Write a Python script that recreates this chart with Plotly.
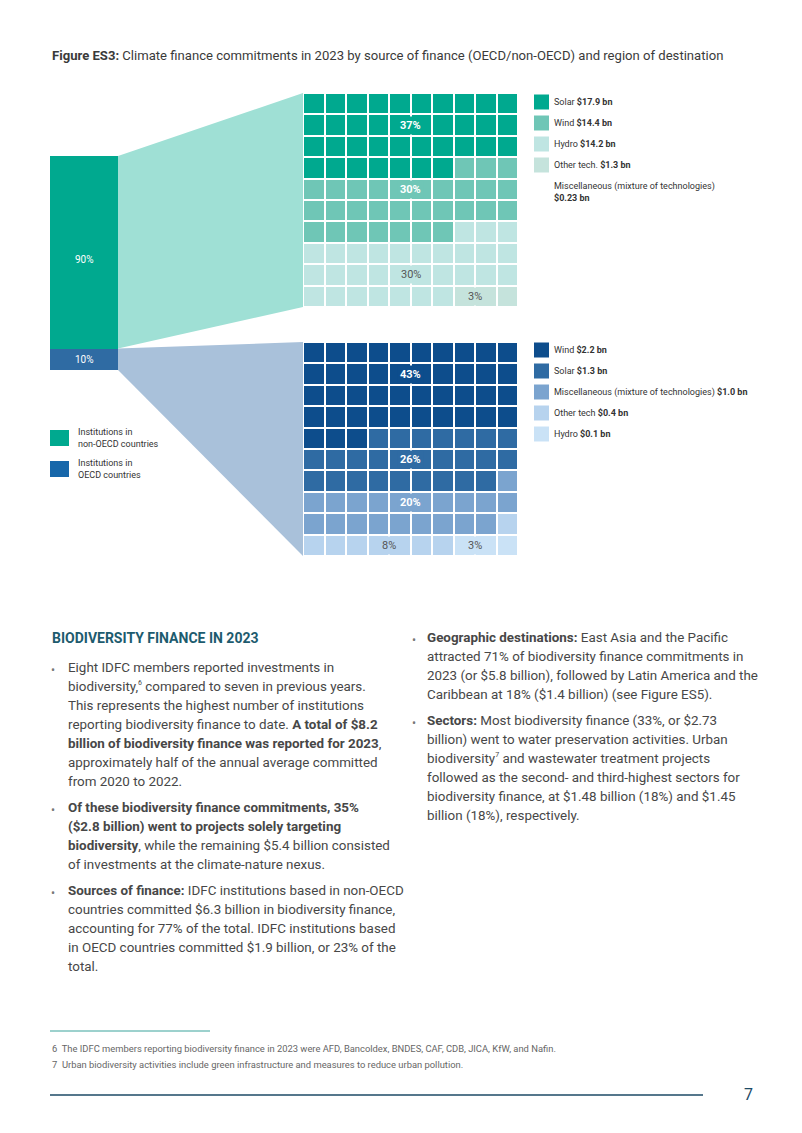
import plotly.graph_objects as go

W, H = 802, 1133
OFF = 8                  # default page margin around the plot
FW, FH = W - 2 * OFF, H - 2 * OFF

# ---------------- data ----------------
source_labels = ["Institutions in<br>non-OECD countries", "Institutions in<br>OECD countries"]
source_share = [90, 10]

nonoecd_tech = ["Solar", "Wind", "Hydro", "Other tech.", "Miscellaneous (mixture of technologies)"]
nonoecd_bn = ["$17.9 bn", "$14.4 bn", "$14.2 bn", "$1.3 bn", "$0.23 bn"]
nonoecd_cells = [37, 30, 30, 3, 0]
nonoecd_pct = ["37%", "30%", "30%", "3%", ""]

oecd_tech = ["Wind", "Solar", "Miscellaneous (mixture of technologies)", "Other tech", "Hydro"]
oecd_bn = ["$2.2 bn", "$1.3 bn", "$1.0 bn", "$0.4 bn", "$0.1 bn"]
oecd_cells = [43, 26, 20, 8, 3]
oecd_pct = ["43%", "26%", "20%", "8%", "3%"]

# ---------------- style ----------------
FONT = "Roboto"
TXT = "#474747"
src_colors = ["#00a98f", "#2f6ba3"]
src_legend_colors = ["#00a98f", "#1767aa"]
funnel_colors = ["#9fe0d5", "#a9c1da"]
nonoecd_colors = ["#00a98f", "#6fc6b6", "#bfe5e2", "#c5e3dc", "#ffffff"]
oecd_colors = ["#0d4d8c", "#2f6ba3", "#7ba4cf", "#b7d3ee", "#cae2f6"]
nonoecd_label_pos = [(1, 4.5), (4, 4.5), (8, 4.5), (9, 7.5), None]
nonoecd_label_col = ["white", "white", "#555555", "#555555", None]
oecd_label_pos = [(1, 4.5), (5, 4.5), (7, 4.5), (9, 3.5), (9, 7.5)]
oecd_label_col = ["white", "white", "white", "#555555", "#555555"]

BAR_X = (50, 118)
BAR_Y = (156, 370)
WAF_X = (303, 518)
WAF1_Y = (93, 307)
WAF2_Y = (342, 556)


def px(x):
    return (x - OFF) / FW


def py(y):
    return 1 - (y - OFF) / FH


fig = go.Figure()
annotations = []
shapes = []

# full-page pixel axes
fig.update_layout(
    xaxis=dict(domain=[0, 1], range=[OFF, OFF + FW], visible=False, fixedrange=True),
    yaxis=dict(domain=[0, 1], range=[OFF + FH, OFF], visible=False, fixedrange=True),
)

# ---------- funnels (computed from source shares) ----------
bar_h = BAR_Y[1] - BAR_Y[0]
split_y = BAR_Y[0] + bar_h * source_share[0] / sum(source_share)
funnel_defs = [
    ((BAR_Y[0], split_y), WAF1_Y),
    ((split_y, BAR_Y[1]), WAF2_Y),
]
for i, ((b0, b1), (w0, w1)) in enumerate(funnel_defs):
    fig.add_trace(go.Scatter(
        x=[BAR_X[1], WAF_X[0], WAF_X[0], BAR_X[1], BAR_X[1]],
        y=[b0, w0, w1, b1, b0],
        fill="toself", fillcolor=funnel_colors[i], mode="lines",
        line=dict(width=0), hoverinfo="skip", xaxis="x", yaxis="y",
    ))

# ---------- stacked source bar ----------
for i in [1, 0]:
    fig.add_trace(go.Bar(
        x=[0], y=[source_share[i]], marker=dict(color=src_colors[i], line=dict(width=0)),
        xaxis="x2", yaxis="y2", width=1, hoverinfo="skip",
    ))
fig.update_layout(
    barmode="stack",
    xaxis2=dict(domain=[px(BAR_X[0]), px(BAR_X[1])], range=[-0.5, 0.5], visible=False, anchor="y2", fixedrange=True),
    yaxis2=dict(domain=[py(BAR_Y[1]), py(BAR_Y[0])], range=[0, sum(source_share)], visible=False, anchor="x2", fixedrange=True),
)
# bar labels (inside each segment)
annotations.append(dict(x=0, y=source_share[1] + source_share[0] * 0.46, xref="x2", yref="y2",
                        text=f"{source_share[0]}%", showarrow=False,
                        font=dict(color="white", size=10, family=FONT)))
annotations.append(dict(x=0, y=source_share[1] / 2, xref="x2", yref="y2",
                        text=f"{source_share[1]}%", showarrow=False,
                        font=dict(color="white", size=10, family=FONT)))


# ---------- waffles ----------
def waffle(cells, colors, xa, ya, ydom, label_pos, labels, label_cols):
    flat = []
    for k, n in enumerate(cells):
        flat += [k] * n
    z = [flat[r * 10:(r + 1) * 10] for r in range(10)]
    n = len(colors)
    cs = []
    for k, c in enumerate(colors):
        cs.append([k / n, c])
        cs.append([(k + 1) / n, c])
    fig.add_trace(go.Heatmap(
        z=z, x=list(range(10)), y=list(range(10)), colorscale=cs,
        zmin=-0.5, zmax=n - 0.5, showscale=False, xgap=2, ygap=2,
        hoverinfo="skip", xaxis=xa, yaxis=ya,
    ))
    fig.layout[xa.replace("x", "xaxis")] = dict(
        domain=[px(WAF_X[0]), px(WAF_X[1])], range=[-0.5, 9.5], visible=False,
        anchor=ya, fixedrange=True)
    fig.layout[ya.replace("y", "yaxis")] = dict(
        domain=[py(ydom[1]), py(ydom[0])], range=[9.5, -0.5], visible=False,
        anchor=xa, fixedrange=True)
    for k, pos in enumerate(label_pos):
        if pos is None or not labels[k]:
            continue
        r, c = pos
        annotations.append(dict(
            x=c, y=r, xref=xa, yref=ya, text=labels[k],
            showarrow=False, font=dict(color=label_cols[k], size=11, family=FONT),
            bgcolor=colors[k], borderpad=2,
        ))


nonoecd_label_text = [f"<b>{t}</b>" if c == "white" else t for t, c in zip(nonoecd_pct, nonoecd_label_col)]
oecd_label_text = [f"<b>{t}</b>" if c == "white" else t for t, c in zip(oecd_pct, oecd_label_col)]
waffle(nonoecd_cells, nonoecd_colors, "x3", "y3", WAF1_Y, nonoecd_label_pos, nonoecd_label_text, nonoecd_label_col)
waffle(oecd_cells, oecd_colors, "x4", "y4", WAF2_Y, oecd_label_pos, oecd_label_text, oecd_label_col)


# ---------- legends ----------
def swatch(x0, y0, w, h, color):
    shapes.append(dict(type="rect", xref="x", yref="y", x0=x0, x1=x0 + w, y0=y0, y1=y0 + h,
                       fillcolor=color, line=dict(width=0), layer="above"))


def text(x, y, s, size=14, color=TXT, anchor="left", family=FONT, yanchor="middle"):
    annotations.append(dict(x=x, y=y, xref="x", yref="y", text=s, showarrow=False,
                            xanchor=anchor, yanchor=yanchor, align="left",
                            font=dict(size=size, color=color, family=family)))


LEG = 9
# top-right legend
ly = [102, 123, 144, 165]
for k in range(4):
    swatch(534, ly[k] - 7.5, 15, 15, nonoecd_colors[k])
    text(552, ly[k], f"{nonoecd_tech[k]} <b>{nonoecd_bn[k]}</b>", size=LEG, color="#333333")
text(552, 186, nonoecd_tech[4], size=LEG, color="#333333")
text(552, 198, f"<b>{nonoecd_bn[4]}</b>", size=LEG, color="#333333")

ly2 = [350, 371, 392, 413, 434]
for k in range(5):
    swatch(534, ly2[k] - 7.5, 15, 15, oecd_colors[k])
    text(552, ly2[k], f"{oecd_tech[k]} <b>{oecd_bn[k]}</b>", size=LEG, color="#333333")

# source legend
for k, yy in enumerate([438, 469]):
    swatch(50, yy - 8, 19, 16, src_legend_colors[k])
    l1, l2 = source_labels[k].split("<br>")
    text(76, yy - 6, l1, size=LEG, color="#333333")
    text(76, yy + 6, l2, size=LEG, color="#333333")

# title
text(50, 55, "<b>Figure ES3:</b> Climate finance commitments in 2023 by source of finance (OECD/non-OECD) and region of destination",
     size=13.1, color="#3a3a3a")

# ---------- body text ----------
text(50, 638, "<b>BIODIVERSITY FINANCE IN 2023</b>", size=14, color="#1d5b6e")

SUP6 = "<sup><span style='font-size:7px'>6</span></sup>"
SUP7 = "<sup><span style='font-size:7px'>7</span></sup>"
left_col = [
    (667, True, "Eight IDFC members reported investments in"),
    (686, False, f"biodiversity,{SUP6} compared to seven in previous years."),
    (705, False, "This represents the highest number of institutions"),
    (724, False, "reporting biodiversity finance to date. <b>A total of $8.2</b>"),
    (743, False, "<b>billion of biodiversity finance was reported for 2023</b>,"),
    (762, False, "approximately half of the annual average committed"),
    (781, False, "from 2020 to 2022."),
    (807, True, "<b>Of these biodiversity finance commitments, 35%</b>"),
    (826, False, "<b>($2.8 billion) went to projects solely targeting</b>"),
    (845, False, "<b>biodiversity</b>, while the remaining $5.4 billion consisted"),
    (864, False, "of investments at the climate-nature nexus."),
    (890, True, "<b>Sources of finance:</b> IDFC institutions based in non-OECD"),
    (909, False, "countries committed $6.3 billion in biodiversity finance,"),
    (928, False, "accounting for 77% of the total. IDFC institutions based"),
    (947, False, "in OECD countries committed $1.9 billion, or 23% of the"),
    (966, False, "total."),
]
right_col = [
    (637, True, "<b>Geographic destinations:</b> East Asia and the Pacific"),
    (656, False, "attracted 71% of biodiversity finance commitments in"),
    (675, False, "2023 (or $5.8 billion), followed by Latin America and the"),
    (694, False, "Caribbean at 18% ($1.4 billion) (see Figure ES5)."),
    (720, True, "<b>Sectors:</b> Most biodiversity finance (33%, or $2.73"),
    (739, False, "billion) went to water preservation activities. Urban"),
    (758, False, f"biodiversity{SUP7} and wastewater treatment projects"),
    (777, False, "followed as the second- and third-highest sectors for"),
    (796, False, "biodiversity finance, at $1.48 billion (18%) and $1.45"),
    (815, False, "billion (18%), respectively."),
]
for col, (bx, tx) in [(left_col, (53, 66)), (right_col, (414, 425))]:
    for yy, bullet, s in col:
        if bullet:
            text(bx, yy + 3, "•", size=12, color="#777777", anchor="center")
        text(tx, yy, s, size=13.4, color=TXT)

# footnotes
shapes.append(dict(type="line", xref="x", yref="y", x0=50, x1=210, y0=1031, y1=1031,
                   line=dict(color="#3aa39b", width=1)))
text(50, 1048, "6  The IDFC members reporting biodiversity finance in 2023 were AFD, Bancoldex, BNDES, CAF, CDB, JICA, KfW, and Nafin.",
     size=9.4, color="#666666")
text(50, 1064, "7  Urban biodiversity activities include green infrastructure and measures to reduce urban pollution.",
     size=9.4, color="#666666")
shapes.append(dict(type="line", xref="x", yref="y", x0=50, x1=703, y0=1095, y1=1095,
                   line=dict(color="#1d4a66", width=1.5)))
text(748, 1094, "7", size=16, color="#1d4a66", anchor="center")

fig.update_layout(
    width=FW, height=FH, margin=dict(l=0, r=0, t=0, b=0),
    paper_bgcolor="white", plot_bgcolor="white", showlegend=False,
    annotations=annotations, shapes=shapes, bargap=0,
    font=dict(family=FONT),
)

fig.write_html("out.html")
